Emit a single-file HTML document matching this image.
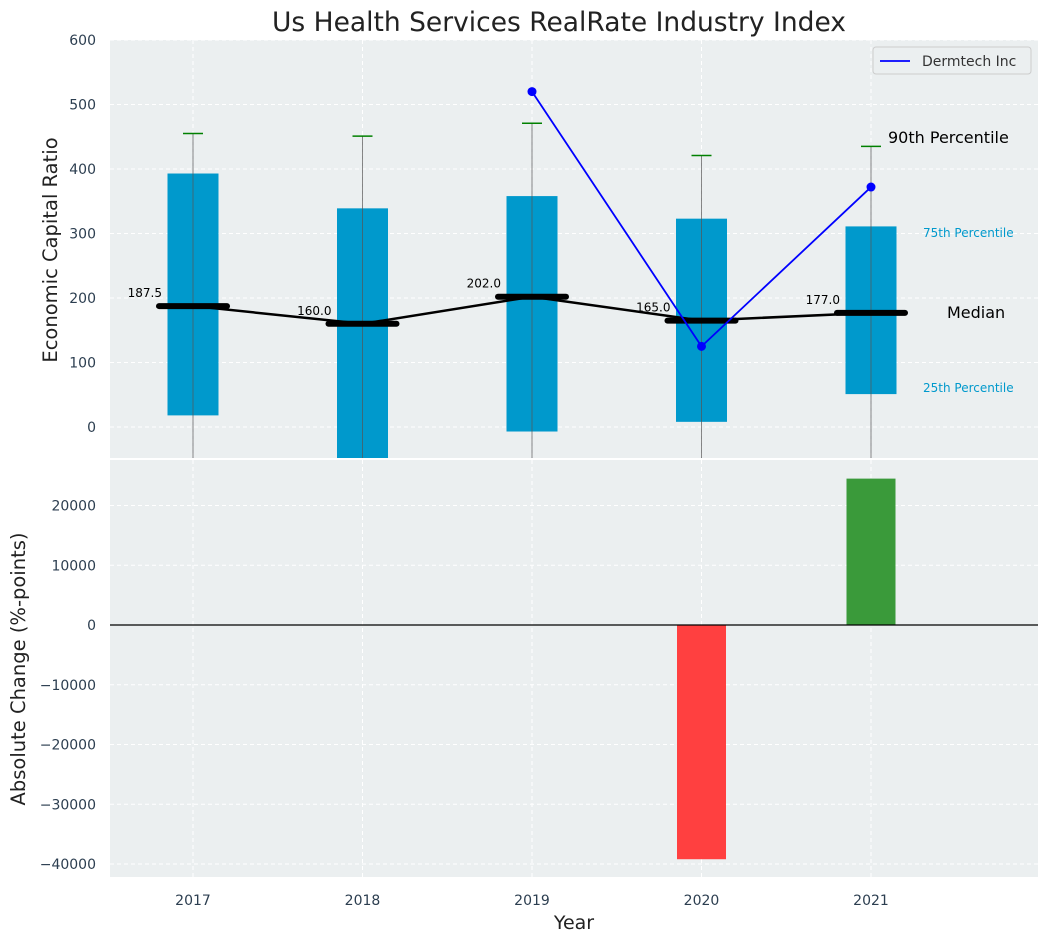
<!DOCTYPE html>
<html><head><meta charset="utf-8"><style>
body{margin:0;background:#fff;font-family:"Liberation Sans","DejaVu Sans",sans-serif}
svg text{font-family:"DejaVu Sans","Liberation Sans",sans-serif}
</style></head><body>
<svg id="c" width="1048" height="942"></svg>
<script>
const years=[2017,2018,2019,2020,2021];
const p25=[18,-60,-7,8,51];
const p75=[393,339,358,323,311];
const p90=[455,451,471,421,435];
const medians=[187.5,160,202,165,177];
const dermYears=[2019,2020,2021];
const dermVals=[520,125,372];
const changeYears=[2020,2021];
const changeVals=[-39200,24500];
const topTicks=[0,100,200,300,400,500,600];
const botTicks=[-40000,-30000,-20000,-10000,0,10000,20000];

const NS="http://www.w3.org/2000/svg";
const svg=document.getElementById('c');
function mk(t,a,p){const e=document.createElementNS(NS,t);for(const k in a)e.setAttribute(k,a[k]);(p||svg).appendChild(e);return e;}
const X=y=>193+(y-2017)*169.5;
const YT=v=>427-v*0.645;
const YB=v=>625-v*0.005975;
const L=110,R=1038;

let t=mk('text',{x:559,y:31,'text-anchor':'middle','font-size':26.5,fill:'#222'});t.textContent='Us Health Services RealRate Industry Index';


let g=mk('g',{});
mk('rect',{x:L,y:40,width:R-L,height:418,fill:'#ebeff0'},g);
let cp=mk('clipPath',{id:'ct'});mk('rect',{x:L,y:40,width:R-L,height:418},cp);
topTicks.forEach(v=>{const y=YT(v);mk('line',{x1:L,x2:R,y1:y,y2:y,stroke:'#fff','stroke-dasharray':'4,3'},g);
 let tx=mk('text',{x:L-14,y:y+5,'text-anchor':'end','font-size':14,fill:'#2c3e50'});tx.textContent=v;
 });
years.forEach(yr=>{mk('line',{x1:X(yr),x2:X(yr),y1:40,y2:458,stroke:'#fff','stroke-dasharray':'4,3'},g);});
let cg=mk('g',{'clip-path':'url(#ct)'},g);
years.forEach((yr,i)=>{const x=X(yr);
 let b=mk('rect',{x:x-25.5,y:YT(p75[i]),width:51,height:YT(p25[i])-YT(p75[i]),fill:'#0099cc'},cg);
 
 mk('line',{x1:x,x2:x,y1:YT(p90[i]),y2:470,stroke:'#555','stroke-width':1,opacity:0.7},cg);
 let c=mk('line',{x1:x-10,x2:x+10,y1:YT(p90[i]),y2:YT(p90[i]),stroke:'green','stroke-width':1.5},cg);
 
});
let mp=medians.map((m,i)=>X(years[i])+','+YT(m)).join(' ');
mk('polyline',{points:mp,fill:'none',stroke:'#000','stroke-width':2.5},cg);
years.forEach((yr,i)=>{const x=X(yr),y=YT(medians[i]);
 let m=mk('line',{x1:x-34,x2:x+34,y1:y,y2:y,stroke:'#000','stroke-width':6,'stroke-linecap':'round'},cg);
 
 let l=mk('text',{x:x-31,y:y-9,'text-anchor':'end','font-size':12,fill:'#000'},g);l.textContent=medians[i].toFixed(1);
 });
let dp=dermVals.map((v,i)=>X(dermYears[i])+','+YT(v)).join(' ');
let dl=mk('polyline',{points:dp,fill:'none',stroke:'blue','stroke-width':1.8},cg);

dermVals.forEach((v,i)=>{let c=mk('circle',{cx:X(dermYears[i]),cy:YT(v),r:4.5,fill:'blue'},cg);
 });
[['90th Percentile',888,143,16,'#000'],['75th Percentile',923,237,12,'#0099cc'],['Median',947,318,16,'#000'],['25th Percentile',923,392,12,'#0099cc']].forEach(a=>{
 let e=mk('text',{x:a[1],y:a[2],'font-size':a[3],fill:a[4]},g);e.textContent=a[0];
 });
let lg=mk('g',{});
mk('rect',{x:873,y:47,width:158,height:27,rx:3,fill:'#ebeff0',stroke:'#ccc'},lg);
mk('line',{x1:880,x2:910,y1:61,y2:61,stroke:'blue','stroke-width':1.8},lg);
let lt=mk('text',{x:922,y:66,'font-size':14,fill:'#333'},lg);lt.textContent='Dermtech Inc';
let yl=mk('text',{x:57,y:250,'text-anchor':'middle','font-size':19.5,fill:'#222',transform:'rotate(-90 57 250)'});yl.textContent='Economic Capital Ratio';


let g2=mk('g',{});
mk('rect',{x:L,y:460,width:R-L,height:417,fill:'#ebeff0'},g2);
botTicks.forEach(v=>{const y=YB(v);mk('line',{x1:L,x2:R,y1:y,y2:y,stroke:'#fff','stroke-dasharray':'4,3'},g2);
 let tx=mk('text',{x:L-14,y:y+5,'text-anchor':'end','font-size':14,fill:'#2c3e50'},g2);tx.textContent=v<0?'\u2212'+(-v):v;
 });
years.forEach(yr=>{mk('line',{x1:X(yr),x2:X(yr),y1:460,y2:877,stroke:'#fff','stroke-dasharray':'4,3'},g2);
 let tx=mk('text',{x:X(yr),y:905,'text-anchor':'middle','font-size':14,fill:'#2c3e50'},g2);tx.textContent=yr;
 });
changeVals.forEach((v,i)=>{const x=X(changeYears[i]);const y0=YB(0),y1=YB(v);
 let b=mk('rect',{x:x-24.5,y:Math.min(y0,y1),width:49,height:Math.abs(y1-y0),fill:v<0?'#ff4040':'#3a9a3a'},g2);
 });
mk('line',{x1:L,x2:R,y1:YB(0),y2:YB(0),stroke:'#000','stroke-width':1.2},g2);
let yl2=mk('text',{x:25,y:669,'text-anchor':'middle','font-size':19.5,fill:'#222',transform:'rotate(-90 25 669)'});yl2.textContent='Absolute Change (%-points)';

let xl=mk('text',{x:574,y:929,'text-anchor':'middle','font-size':19,fill:'#222'});xl.textContent='Year';

</script>
</body></html>
